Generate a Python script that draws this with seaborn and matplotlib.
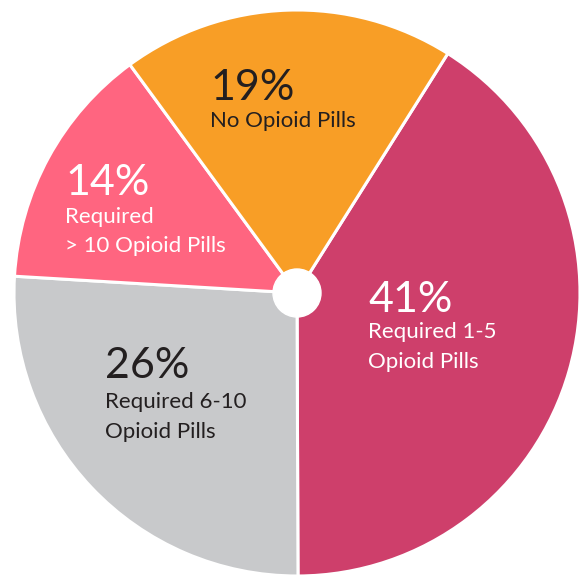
import matplotlib
matplotlib.use("Agg")
import matplotlib.pyplot as plt
import seaborn as sns

# ---- data ----
categories = ["Required 1-5\nOpioid Pills", "Required 6-10\nOpioid Pills",
              "Required\n> 10 Opioid Pills", "No Opioid Pills"]
values = [41, 26, 14, 19]
pct_labels = ["41%", "26%", "14%", "19%"]
colors = ["#CE3F6B", "#C8C9CB", "#FF6580", "#F89E26"]
text_colors = ["white", "#231F20", "white", "#231F20"]

sns.set_style("white")
plt.rcParams["font.family"] = ["Lato", "DejaVu Sans"]

W, H = 582, 576
fig = plt.figure(figsize=(W / 100, H / 100), dpi=100)
ax = fig.add_axes([0, 0, 1, 1])

cx, cy, R = 297, 293, 283  # pixel geometry
palette = sns.color_palette(colors)
ax.pie(values, colors=palette, startangle=57.8, counterclock=False,
       radius=1.0, wedgeprops=dict(edgecolor="white", linewidth=2.2))
ax.add_patch(plt.Circle((0, 0), 24 / R, color="white", zorder=5))
ax.set_xlim(-cx / R, (W - cx) / R)
ax.set_ylim(-(H - cy) / R, cy / R)
ax.set_aspect("auto")
ax.axis("off")

# label placement (pixel: left x, baseline of percent, baseline of first line)
pos = [(368, 312, 338), (105, 378, 408), (65, 195, 223), (210, 100, 127)]
line_gap = 29.5
for (x, yb, yl), pct, cat, tc in zip(pos, pct_labels, categories, text_colors):
    fig.text(x / W, 1 - yb / H, pct, fontsize=31, color=tc,
             ha="left", va="baseline")
    for i, line in enumerate(cat.split("\n")):
        fig.text(x / W, 1 - (yl + i * line_gap) / H, line, fontsize=16,
                 color=tc, ha="left", va="baseline")

fig.savefig("out.png", dpi=100, facecolor="white")
